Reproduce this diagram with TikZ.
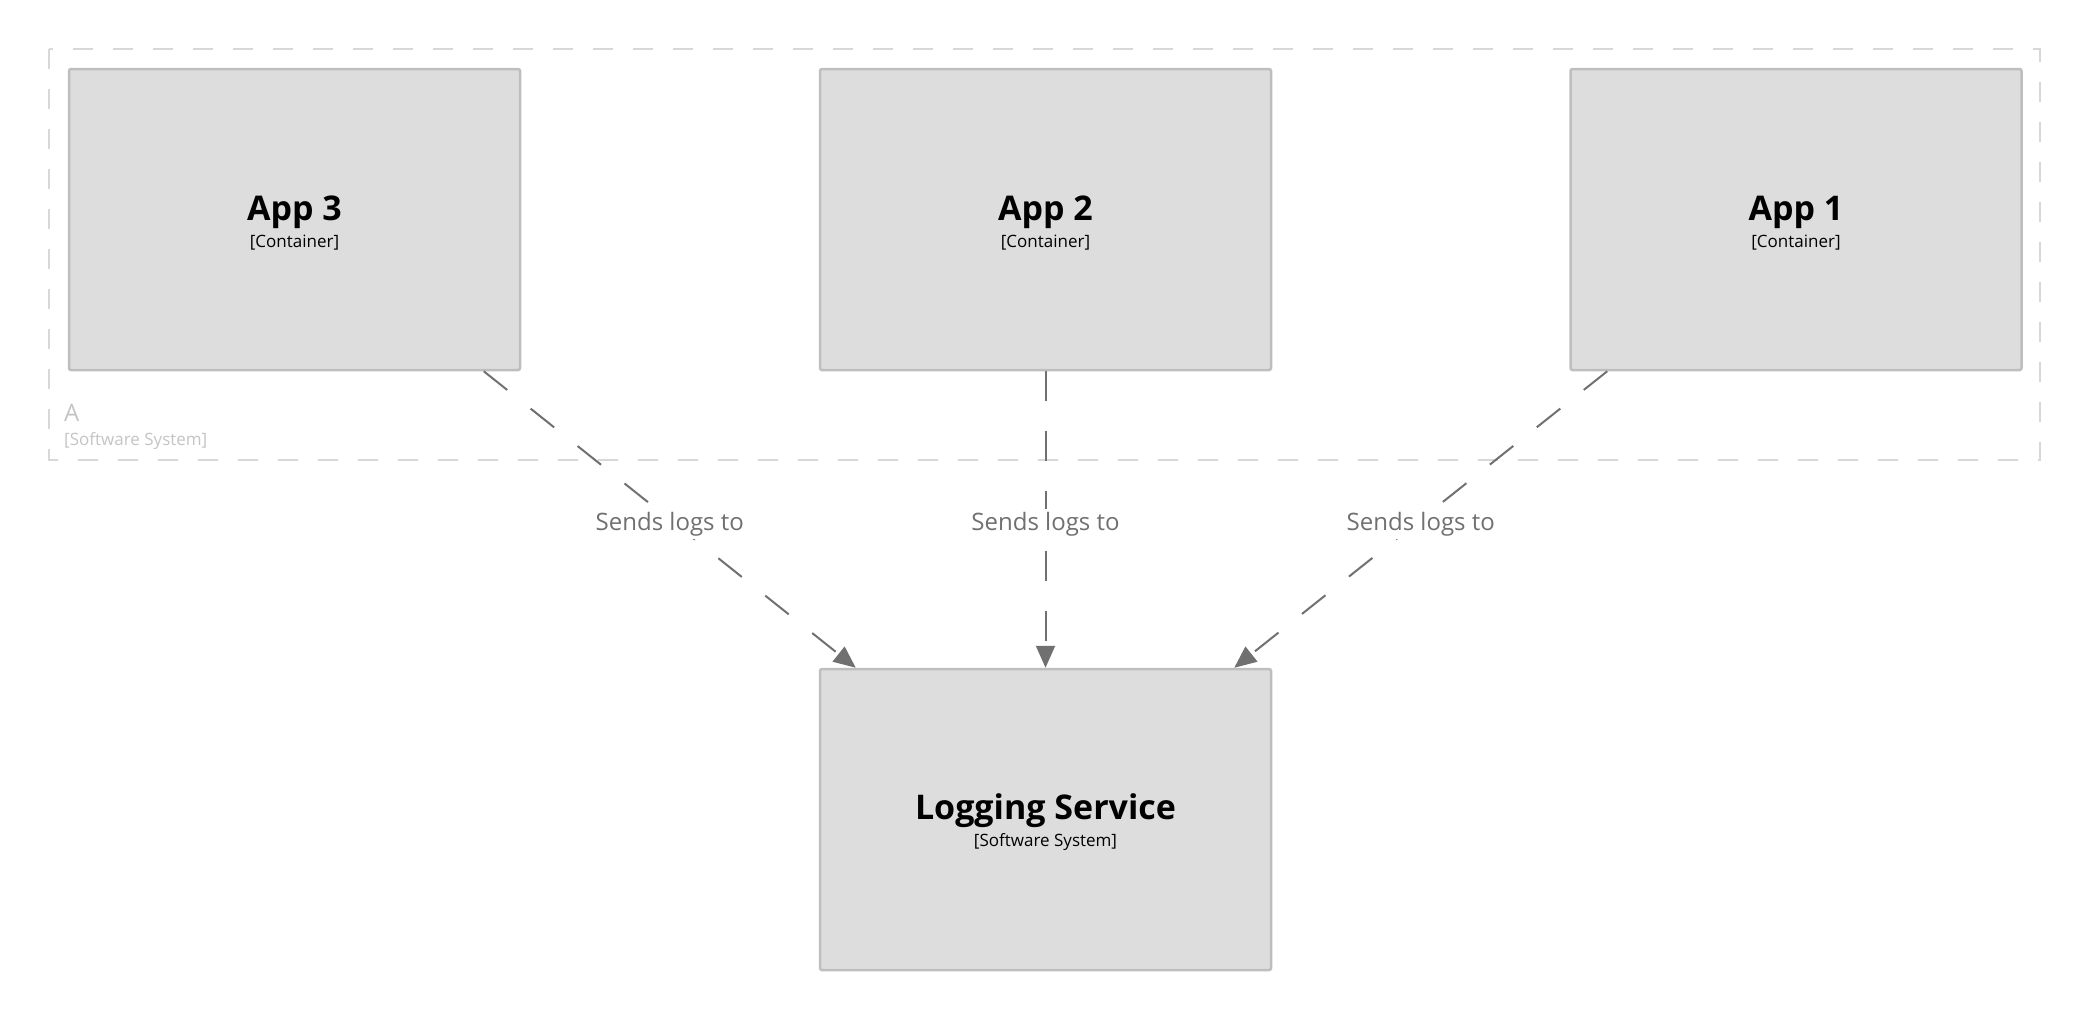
\documentclass[tikz,border=0pt]{standalone}
\usepackage{fontspec}
\setmainfont{Open Sans}
\usetikzlibrary{arrows.meta,calc}
\definecolor{boxfill}{HTML}{DDDDDD}
\definecolor{boxline}{HTML}{BEBEBE}
\definecolor{relline}{HTML}{707070}
\definecolor{bndline}{HTML}{D8D8D8}
\definecolor{bndtext}{HTML}{C4C4C4}
\newcommand{\elemtext}[2]{{\fontsize{34}{40}\selectfont\bfseries\rule{0pt}{31pt}#1}\\{#2}}
\begin{document}
\begin{tikzpicture}[x=1pt,y=-1pt,
    elem/.style={draw=boxline, fill=boxfill, line width=2.5pt, rounded corners=2pt,
      minimum width=451pt, minimum height=301pt, align=center, inner sep=0pt,
      font=\fontsize{17}{27}\selectfont},
    rel/.style={draw=relline, line width=2pt, dash pattern=on 30pt off 30pt,
      -{Triangle[length=22pt,width=19pt]}},
    rellabel/.style={fill=white, text=relline, font=\fontsize{24}{28}\selectfont,
      inner sep=3pt, yshift=-4.5pt},
    bnd/.style={draw=bndline, line width=2pt, dash pattern=on 20pt off 20pt},
    bndlabel/.style={text=bndtext, inner sep=0pt, align=left,
      font=\fontsize{17}{24}\selectfont}]
    \useasboundingbox (0,0) rectangle (2090,1020);
    % Software system boundary
    \draw[bnd] (49,49) rectangle (2040,460);
    \node[bndlabel, anchor=north west] (bndA) at (64,404)
        {{\fontsize{24}{28}\selectfont A}\\{[Software System]}};
    % Containers
    \node[elem] (app3) at (294.5,219.5) {\elemtext{App 3}{[Container]}};
    \node[elem] (app2) at (1045.5,219.5) {\elemtext{App 2}{[Container]}};
    \node[elem] (app1) at (1796,219.5) {\elemtext{App 1}{[Container]}};
    % External system
    \node[elem] (logging) at (1045.5,819.5) {\elemtext{Logging Service}{[Software System]}};
    % Relationships
    \draw[rel] ([xshift=-37.5pt]app3.south east) -- node[rellabel] {Sends logs to} ([xshift=37pt]logging.north west);
    \draw[rel] (app2.south) -- node[rellabel] {Sends logs to} (logging.north);
    \draw[rel] ([xshift=38pt]app1.south west) -- node[rellabel] {Sends logs to} ([xshift=-38pt]logging.north east);
\end{tikzpicture}
\end{document}
